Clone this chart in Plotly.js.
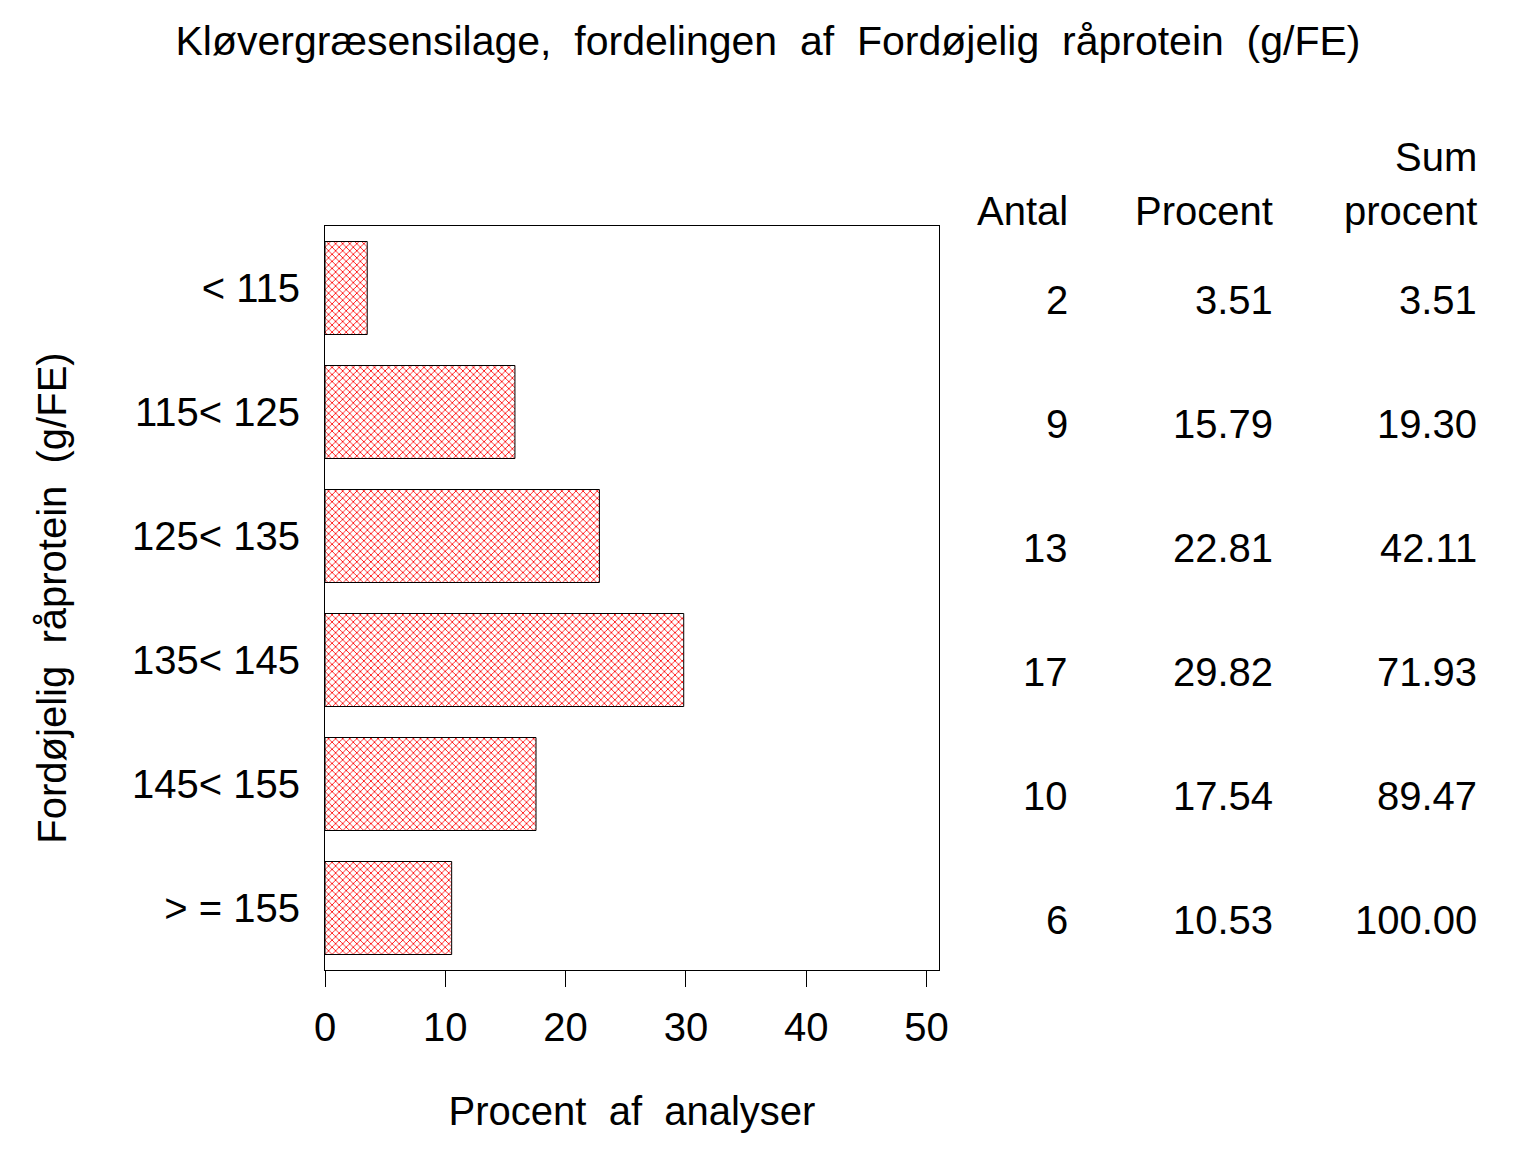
<!DOCTYPE html>
<html>
<head>
<meta charset="utf-8">
<script src="https://cdn.plot.ly/plotly-3.0.1.min.js"></script>
<style>
  body { margin: 0; background: #fff; }
  #plt { width: 1536px; height: 1152px; }
</style>
</head>
<body>
<div id="plt"></div>
<script>
var categories = ['< 115', '115< 125', '125< 135', '135< 145', '145< 155', '> = 155'];
var antal = [2, 9, 13, 17, 10, 6];
var procent = [3.51, 15.79, 22.81, 29.82, 17.54, 10.53];
var sumProcent = [3.51, 19.30, 42.11, 71.93, 89.47, 100.00];
var xTicks = [0, 10, 20, 30, 40, 50];

var font = 'Liberation Sans, Arial, sans-serif';

function plot(){
    let gd = document.getElementById('plt');

    let d = [{
        type: 'bar',
        orientation: 'h',
        y: categories,
        x: procent,
        width: 0.75,
        marker: {
            color: 'white',
            line: {color: 'black', width: 1},
            pattern: {shape: 'x', fgcolor: 'red', bgcolor: 'white', size: 5, solidity: 0.3}
        },
        hoverinfo: 'none'
    }];

    // table to the right of the plot
    let cols = [
        {x: 1.2134, head: ['Antal'], vals: antal.map(v => String(v))},
        {x: 1.5472, head: ['Procent'], vals: procent.map(v => v.toFixed(2))},
        {x: 1.8795, head: ['procent', 'Sum'], vals: sumProcent.map(v => v.toFixed(2))}
    ];
    let headY = [1.0202, 1.0927];
    let ann = [];
    cols.forEach(c => {
        c.head.forEach((h, j) => {
            ann.push({
                xref: 'paper', yref: 'paper', x: c.x, y: headY[j],
                xanchor: 'right', yanchor: 'middle',
                text: h, showarrow: false,
                font: {family: font, size: 40, color: 'black'}
            });
        });
        c.vals.forEach((v, i) => {
            ann.push({
                xref: 'paper', yref: 'y', x: c.x, y: categories[i],
                xanchor: 'right', yanchor: 'middle', yshift: -12,
                text: v, showarrow: false,
                font: {family: font, size: 40, color: 'black'}
            });
        });
    });

    let l = {
        width: 1536,
        height: 1152,
        margin: {l: 325, r: 597, t: 226, b: 182},
        paper_bgcolor: 'white',
        plot_bgcolor: 'white',
        showlegend: false,
        font: {family: font, size: 40, color: 'black'},
        title: {
            text: 'Kløvergræsensilage,  fordelingen  af  Fordøjelig  råprotein  (g/FE)',
            x: 0.5, xref: 'container', xanchor: 'center',
            y: 0.965, yanchor: 'middle',
            font: {family: font, size: 41, color: 'black'}
        },
        xaxis: {
            range: [0, 51.04],
            tickvals: xTicks,
            ticktext: xTicks.map(String),
            ticks: 'outside',
            ticklen: 16,
            tickwidth: 1,
            tickcolor: 'black',
            ticklabelstandoff: 6,
            showline: true,
            linecolor: 'black',
            linewidth: 1,
            mirror: true,
            showgrid: false,
            zeroline: false,
            tickfont: {family: font, size: 40},
            title: {text: 'Procent  af  analyser', standoff: 48, font: {family: font, size: 40}}
        },
        yaxis: {
            type: 'category',
            range: [5.5, -0.5],
            ticks: '',
            showline: true,
            linecolor: 'black',
            linewidth: 1,
            mirror: true,
            showgrid: false,
            zeroline: false,
            ticklabelstandoff: 16,
            tickfont: {family: font, size: 40},
            title: {text: 'Fordøjelig  råprotein  (g/FE)', standoff: 53, font: {family: font, size: 40}}
        },
        annotations: ann
    };

    let c = {displayModeBar: false, staticPlot: true};

    Plotly.newPlot(gd, d, l, c);
}

plot();
</script>
</body>
</html>
